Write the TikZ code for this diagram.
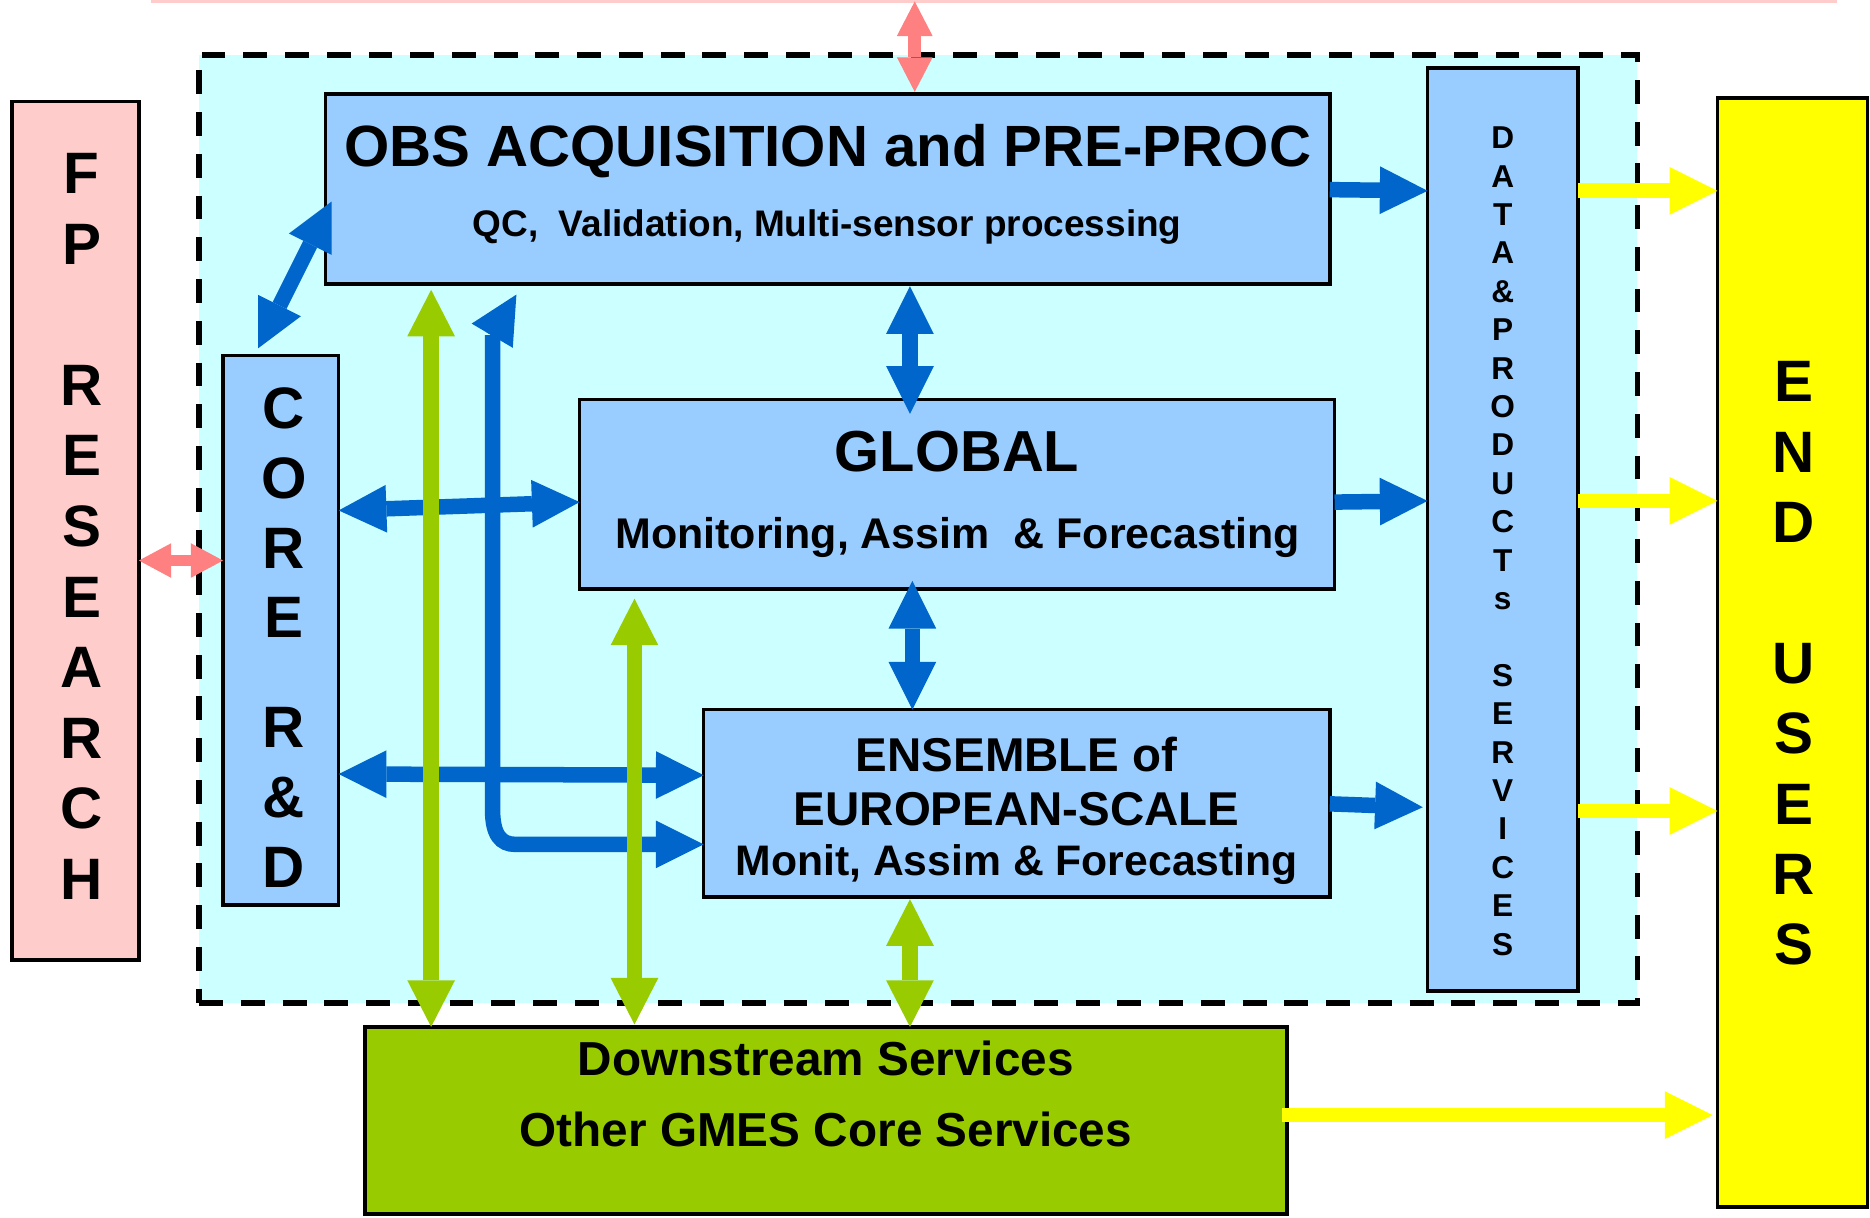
\documentclass[tikz,border=0pt]{standalone}
\usepackage{fontspec}
\setmainfont{Liberation Sans}
\usetikzlibrary{arrows.meta,calc}
\definecolor{cyanbg}{HTML}{CCFFFF}
\definecolor{boxblue}{HTML}{99CCFF}
\definecolor{ablue}{HTML}{0066CC}
\definecolor{agreen}{HTML}{99CC00}
\definecolor{ayellow}{HTML}{FFFF00}
\definecolor{pinkbox}{HTML}{FFCCCC}
\definecolor{apink}{HTML}{FF8080}
\begin{document}
\begin{tikzpicture}[x=1pt,y=-1pt,
  box/.style={draw=black, line width=3pt, inner sep=0pt, outer sep=0pt, anchor=north west},
  frame/.style={draw=black, fill=cyanbg, line width=4.5pt, dash pattern=on 20pt off 15pt, inner sep=0pt, outer sep=0pt, anchor=north west},
  lbl/.style={anchor=base, inner sep=0pt, font=\bfseries\fontsize{#1}{#1}\selectfont},
  vlet/.style={anchor=south, inner sep=0pt, align=center, font=\bfseries\fontsize{#1}{#1}\selectfont},
  bhead/.style={},
  barrow/.style={draw=ablue, line width=13pt, -{Triangle[length=40pt,width=40pt,line width=0pt]}},
  bdarrow/.style={draw=ablue, line width=13pt, {Triangle[length=40pt,width=40pt,line width=0pt]}-{Triangle[length=40pt,width=40pt,line width=0pt]}},
  gdarrow/.style={draw=agreen, line width=13pt, {Triangle[length=39pt,width=40pt,line width=0pt]}-{Triangle[length=39pt,width=40pt,line width=0pt]}},
  yarrow/.style={draw=ayellow, line width=12.3pt, -{Triangle[length=40pt,width=40pt,line width=0pt]}},
  ptoparrow/.style={draw=apink, line width=11pt, {Triangle[length=29pt,width=30pt,line width=0pt]}-{Triangle[length=29pt,width=30pt,line width=0pt]}},
  psidearrow/.style={draw=apink, line width=10pt, {Triangle[length=27pt,width=29pt,line width=0pt]}-{Triangle[length=27pt,width=29pt,line width=0pt]}},
  pinkline/.style={draw=pinkbox, line width=2.5pt}
]
\fill[white] (0,0) rectangle (1568,1021);
\useasboundingbox (0,0) rectangle (1568,1021);

% top pink line
\coordinate (tl) at (127,1.2);
\coordinate (tr) at (1540,1.2);
\draw[pinkline] (tl) -- (tr);

% dashed frame
\node[frame, minimum width=1206pt, minimum height=795pt] (frm) at (167,46) {};

% boxes
\node[box, fill=pinkbox, minimum width=106.5pt, minimum height=720pt] (fp) at (10,85) {};
\node[box, fill=boxblue, minimum width=97pt, minimum height=461pt] (core) at (187,298) {};
\node[box, fill=boxblue, minimum width=842pt, minimum height=159pt] (obs) at (273,79) {};
\node[box, fill=boxblue, minimum width=633pt, minimum height=159pt] (glob) at (486,335) {};
\node[box, fill=boxblue, minimum width=525pt, minimum height=157pt] (ens) at (590,595) {};
\node[box, fill=boxblue, minimum width=126pt, minimum height=774pt] (data) at (1197,57) {};
\node[box, fill=ayellow, minimum width=126pt, minimum height=930pt] (end) at (1440,82) {};
\node[box, fill=agreen, minimum width=773pt, minimum height=157pt] (down) at (306,861) {};

% texts
\node[lbl=48.8] (obsT1) at (694,139.8) {OBS ACQUISITION and PRE-PROC};
\node[lbl=31] (obsT2) at (693.5,198) {QC,\ \ Validation, Multi-sensor processing};
\node[lbl=48.5] (globT1) at (802.5,395.6) {GLOBAL};
\node[lbl=36] (globT2) at (803,460) {Monitoring, Assim\ \ \& Forecasting};
\node[lbl=39.8] (ensT1) at (852.5,647) {ENSEMBLE of};
\node[lbl=39.8] (ensT2) at (852.5,692) {EUROPEAN-SCALE};
\node[lbl=35.8] (ensT3) at (852.5,734.5) {Monit, Assim \& Forecasting};
\node[lbl=40] (downT1) at (692.5,902) {Downstream Services};
\node[lbl=40] (downT2) at (692.5,961) {Other GMES Core Services};

\node[vlet=49, font=\bfseries\fontsize{49}{59.2}\selectfont] (fpT) at (68.5,754.5) {F\\P\\[59.2pt]R\\E\\S\\E\\A\\R\\C\\H};
\node[vlet=49, font=\bfseries\fontsize{49}{58.5}\selectfont] (coreT) at (238,744) {C\\O\\R\\E\\[33.5pt]R\\\&\\D};
\node[vlet=49, font=\bfseries\fontsize{49}{59}\selectfont] (endT) at (1504,809.7) {E\\N\\D\\[59pt]U\\S\\E\\R\\S};
\node[vlet=26.5, font=\bfseries\fontsize{26.5}{32.2}\selectfont] (dataT) at (1260,801.3) {D\\A\\T\\A\\\&\\P\\R\\O\\D\\U\\C\\T\\s\\[32.2pt]S\\E\\R\\V\\I\\C\\E\\S};

% blue arrows
\draw[barrow] (obs.east |- 0,159) -- (data.west |- 0,160);
\draw[barrow] (glob.east |- 0,421) -- (data.west |- 0,420);
\draw[barrow, shorten >=4pt] (ens.east |- 0,674) -- (data.west |- 0,677);
\draw[bdarrow] (core.east |- 0,428) -- (glob.west |- 0,421);
\draw[bdarrow] (core.east |- 0,649) -- (ens.west |- 0,650);
\draw[bdarrow, shorten <=2pt, shorten >=-12pt] (obs.south -| 763,0) -- (glob.north -| 763,0);
\draw[bdarrow, shorten <=-7pt] (glob.south -| 765,0) -- (ens.north -| 765,0);
\draw[bdarrow] ($(core.north west)+(29.5,-6)$) -- ($(obs.west)+(5,10.5)$);
\coordinate (elb) at (433,247);
\draw[bdarrow] (elb) -- (413,281) -- (413,679) .. controls (413,700) and (420,708) .. (432,708) -- (ens.west |- 0,708);

% green arrows
\draw[gdarrow, shorten <=5pt] (obs.south -| 361.5,0) -- (down.north -| 361.5,0);
\draw[gdarrow, shorten <=8pt, shorten >=2pt] (glob.south -| 532,0) -- (down.north -| 532,0);
\draw[gdarrow, shorten <=2pt] (ens.south -| 763,0) -- (down.north -| 763,0);

% yellow arrows
\draw[yarrow] (data.east |- 0,160) -- (end.west |- 0,160);
\draw[yarrow] (data.east |- 0,420) -- (end.west |- 0,420);
\draw[yarrow] (data.east |- 0,680) -- (end.west |- 0,680);
\draw[yarrow, shorten <=-4pt, shorten >=4pt] (down.east |- 0,935) -- (end.west |- 0,935);

% pink arrows
\draw[ptoparrow, shorten >=2pt] (tl -| 767,0) -- (obs.north -| 767,0);
\draw[psidearrow] (fp.east |- 0,470) -- (core.west |- 0,470);
\end{tikzpicture}
\end{document}
